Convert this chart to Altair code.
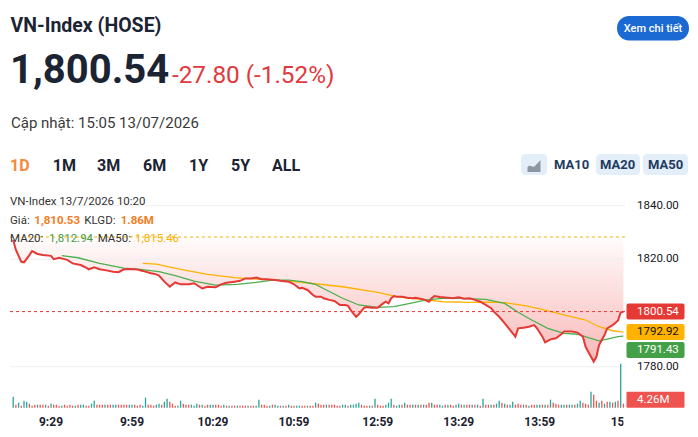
import altair as alt
import pandas as pd

FONT = "Roboto"

# ---------------- data ----------------
PREV_CLOSE = 1828.34
LAST_PRICE = 1800.54
MA20_LAST = 1791.43
MA50_LAST = 1792.92
VOL_LAST_LABEL = "4.26M"

# minute index (09:15 = 0, afternoon continues after 11:29) and price
price_idx = [0, 1, 3, 4, 6, 7, 9, 11, 14, 15, 17, 19, 20, 22, 25, 27, 28, 30, 32, 35,
             37, 39, 41, 43, 46, 48, 51, 53, 54, 56, 58, 60, 62, 65, 67, 69, 70, 72, 75, 77,
             79, 82, 84, 86, 88, 90, 92, 94, 97, 99, 102, 104, 106, 107, 109, 111, 112, 114, 115, 117,
             119, 121, 123, 124, 125, 127, 128, 130, 131, 133, 135, 137, 138, 139, 140, 141, 142, 144, 146, 148,
             149, 152, 154, 155, 156, 158, 161, 163, 165, 167, 169, 171, 173, 175, 177, 178, 180, 182, 184, 186,
             187, 189, 191, 193, 194, 196, 197, 199, 201, 203, 204, 207, 209, 211, 212, 214, 215, 216, 217, 219,
             220, 222, 223, 224, 225, 226]
price_val = [1827.2, 1823.5, 1819.1, 1818.9, 1821.6, 1823.1, 1822.0, 1821.6, 1821.3, 1820.1,
             1820.6, 1820.1, 1819.8, 1818.5, 1817.9, 1816.9, 1816.3, 1817.0, 1816.3, 1815.8,
             1815.4, 1815.2, 1816.3, 1816.4, 1816.2, 1815.7, 1814.8, 1814.4, 1814.0, 1811.7,
             1809.8, 1811.4, 1810.7, 1810.7, 1811.1, 1809.8, 1809.2, 1809.8, 1809.6, 1810.7,
             1811.3, 1811.7, 1812.0, 1812.9, 1812.9, 1813.2, 1812.6, 1812.6, 1812.3, 1812.0,
             1811.7, 1810.7, 1809.2, 1809.4, 1808.6, 1806.7, 1806.1, 1806.1, 1805.5, 1804.9,
             1804.5, 1803.0, 1803.0, 1802.7, 1801.1, 1798.6, 1799.5, 1802.0, 1802.2, 1802.0,
             1802.0, 1803.6, 1804.2, 1803.6, 1805.5, 1806.3, 1806.1, 1806.1, 1805.7, 1805.5,
             1805.7, 1805.1, 1804.2, 1805.5, 1806.3, 1806.0, 1805.7, 1805.5, 1805.9, 1805.3,
             1805.5, 1804.9, 1804.2, 1803.0, 1801.8, 1800.5, 1798.6, 1796.2, 1793.7, 1791.2,
             1794.3, 1794.5, 1794.9, 1795.5, 1794.3, 1791.2, 1789.1, 1790.2, 1790.6, 1792.1,
             1793.1, 1793.1, 1792.7, 1791.2, 1787.4, 1783.7, 1781.9, 1783.7, 1788.1, 1791.8,
             1794.3, 1795.5, 1796.3, 1797.2, 1800.2, 1800.54]

ma20_idx = [18, 24, 32, 41, 47, 54, 60, 67, 75, 83, 90, 96, 102, 107, 110, 112, 116, 122, 128, 135,
            141, 147, 153, 159, 165, 175, 182, 187, 192, 198, 204, 209, 213, 217, 220, 224, 226]
ma20_val = [1821.4, 1820.6, 1818.5, 1816.7, 1816.3, 1815.4, 1813.9, 1811.9, 1810.4, 1810.7,
            1811.4, 1812.3, 1812.3, 1811.7, 1811.1, 1810.7, 1808.6, 1805.5, 1803.0, 1802.1,
            1802.4, 1803.6, 1804.9, 1805.5, 1805.5, 1805.1, 1803.6, 1800.3, 1797.4, 1794.3,
            1792.4, 1792.1, 1790.8, 1789.6, 1790.3, 1791.2, 1791.43]

ma50_idx = [48, 53, 62, 72, 82, 90, 97, 104, 110, 122, 135, 141, 147, 153, 159, 169, 175, 182, 190, 197,
            204, 212, 217, 222, 226]
ma50_val = [1818.5, 1818.2, 1816.3, 1814.4, 1813.2, 1812.6, 1812.3, 1811.7, 1811.1, 1809.8,
            1807.7, 1806.3, 1805.5, 1804.9, 1804.2, 1804.0, 1804.1, 1803.9, 1802.7, 1801.1,
            1799.3, 1797.4, 1794.9, 1793.4, 1792.92]

# per-minute volume (millions) and candle direction (u = up, d = down)
VOLUMES = [11, 3, 5, 2, 7, 6, 4, 2, 3, 3, 3, 3, 3, 2, 4, 3, 3, 2, 2, 3,
           2, 3, 2, 2, 3, 3, 3, 2, 2, 4, 7, 3, 3, 3, 3, 3, 3, 3, 3, 3,
           3, 3, 3, 3, 3, 3, 2, 3, 2, 10, 3, 3, 2, 3, 4, 3, 6, 9, 6, 4,
           2, 2, 7, 4, 3, 3, 3, 2, 4, 3, 3, 2, 3, 3, 3, 3, 3, 2, 3, 2,
           2, 2, 2, 2, 2, 2, 2, 2, 2, 2, 2, 8, 3, 3, 2, 2, 3, 3, 2, 2,
           2, 2, 3, 2, 2, 2, 2, 2, 2, 2, 2, 2, 5, 4, 3, 3, 3, 3, 3, 3,
           2, 2, 3, 3, 2, 3, 3, 4, 5, 3, 2, 2, 2, 2, 9, 3, 2, 2, 3, 5,
           9, 3, 2, 3, 3, 5, 3, 3, 3, 3, 3, 3, 3, 3, 5, 5, 3, 3, 3, 2,
           3, 3, 3, 2, 3, 4, 3, 3, 3, 3, 3, 3, 3, 2, 9, 3, 3, 3, 3, 4,
           7, 5, 4, 3, 3, 6, 3, 4, 3, 3, 3, 2, 3, 3, 3, 3, 3, 3, 3, 8,
           5, 4, 3, 3, 3, 3, 3, 3, 3, 4, 7, 5, 4, 3, 16, 13, 7, 5, 7, 4,
           6, 6, 5, 6, 7, 44, 4]
DIRS = ["u", "d", "u", "d", "u", "u", "d", "d", "d", "u", "d", "d", "u", "d", "u", "d", "d", "d", "u", "d",
        "d", "d", "d", "u", "d", "u", "u", "d", "d", "u", "u", "d", "d", "d", "u", "d", "d", "u", "u", "d",
        "d", "d", "d", "u", "u", "d", "d", "d", "u", "u", "d", "d", "d", "u", "u", "d", "u", "u", "d", "d",
        "d", "u", "u", "d", "d", "d", "u", "u", "u", "d", "u", "d", "d", "u", "u", "d", "d", "d", "u", "d",
        "u", "d", "d", "u", "d", "d", "d", "u", "d", "d", "u", "u", "d", "d", "d", "u", "d", "u", "u", "d",
        "u", "d", "u", "d", "d", "u", "u", "d", "d", "u", "d", "d", "u", "d", "d", "d", "u", "d", "d", "d",
        "d", "d", "u", "u", "d", "u", "u", "u", "u", "d", "d", "d", "u", "d", "u", "d", "d", "d", "u", "u",
        "u", "d", "u", "u", "d", "u", "d", "d", "u", "d", "u", "d", "u", "d", "d", "u", "d", "d", "u", "u",
        "d", "u", "d", "d", "u", "u", "d", "u", "d", "d", "u", "d", "u", "d", "u", "d", "d", "u", "d", "u",
        "u", "d", "u", "d", "u", "u", "d", "d", "d", "u", "d", "u", "d", "d", "u", "u", "d", "u", "d", "u",
        "d", "d", "d", "u", "u", "d", "u", "u", "d", "u", "u", "d", "d", "d", "u", "d", "d", "u", "d", "u",
        "d", "u", "d", "u", "d", "u", "d"]

GRID_TICKS = [1840, 1820, 1780]
XTICK_IDX = [14, 44, 74, 104, 135, 165, 195, 227]
XTICK_LABELS = ["9:29", "9:59", "10:29", "10:59", "12:59", "13:29", "13:59", "15:00"]

# ---------------- scales ----------------
XS = alt.Scale(domain=[0, 227], range=[13.2, 626.1])
YS = alt.Scale(domain=[1780, 1840], range=[366.7, 205.7])
VS = alt.Scale(domain=[0, 44], range=[407.7, 363.7])

ONE = pd.DataFrame({"k": [0]})

price_df = pd.DataFrame({"i": price_idx, "p": price_val})
price_df["base"] = PREV_CLOSE
ma20_df = pd.DataFrame({"i": ma20_idx, "p": ma20_val})
ma50_df = pd.DataFrame({"i": ma50_idx, "p": ma50_val})
vol_df = pd.DataFrame({"i": list(range(len(VOLUMES))), "v": VOLUMES, "d": DIRS})
vol_df["z"] = 0
grid_df = pd.DataFrame({"v": GRID_TICKS})
xt_df = pd.DataFrame({"i": XTICK_IDX, "lab": XTICK_LABELS})

X = alt.X("i:Q", scale=XS, axis=None)
Y = alt.Y("p:Q", scale=YS, axis=None)

area = alt.Chart(price_df).mark_area(
    orient="vertical",
    color=alt.Gradient(
        gradient="linear",
        stops=[alt.GradientStop(color="rgba(239,68,68,0.02)", offset=0),
               alt.GradientStop(color="rgba(239,68,68,0.38)", offset=1)],
        x1=0, x2=0, y1=0, y2=1),
).encode(x=X, y=Y, y2="base:Q")

grid = alt.Chart(grid_df).mark_rule(color="#efefef", strokeWidth=1).encode(
    y=alt.Y("v:Q", scale=YS, axis=None), x=alt.value(10), x2=alt.value(625))

prev_line = alt.Chart(pd.DataFrame({"v": [PREV_CLOSE]})).mark_rule(
    color="#f2b600", strokeDash=[3, 3], strokeWidth=1).encode(
    y=alt.Y("v:Q", scale=YS, axis=None), x=alt.value(10), x2=alt.value(625))

ma50 = alt.Chart(ma50_df).mark_line(color="#ffb300", strokeWidth=1.3).encode(x=X, y=Y)
ma20 = alt.Chart(ma20_df).mark_line(color="#4caf50", strokeWidth=1.3).encode(x=X, y=Y)
line = alt.Chart(price_df).mark_line(color="#e53935", strokeWidth=2).encode(x=X, y=Y)

last_line = alt.Chart(pd.DataFrame({"v": [LAST_PRICE]})).mark_rule(
    color="#e53935", strokeDash=[3, 3], strokeWidth=1).encode(
    y=alt.Y("v:Q", scale=YS, axis=None), x=alt.value(10), x2=alt.value(625))

vol = alt.Chart(vol_df).mark_rule(strokeWidth=1.3).encode(
    x=X, y=alt.Y("v:Q", scale=VS, axis=None), y2="z:Q",
    color=alt.Color("d:N", scale=alt.Scale(domain=["u", "d"], range=["#26a69a", "#ef5350"]), legend=None))

xlab = alt.Chart(xt_df).mark_text(font=FONT, fontSize=12, fontWeight="bold", color="#1c2230",
                                  baseline="middle").encode(
    x=X, y=alt.value(421.5), text="lab:N")

mask = alt.Chart(ONE).mark_rect(color="white").encode(
    x=alt.value(623.5), x2=alt.value(698), y=alt.value(410), y2=alt.value(437))

ylab = alt.Chart(grid_df).mark_text(font=FONT, fontSize=11.5, color="#131722", align="left",
                                    baseline="middle").encode(
    y=alt.Y("v:Q", scale=YS, axis=None), x=alt.value(637), text=alt.Text("v:Q", format=".2f"))


def tag(value, fill, tcolor, shift):
    base = alt.Chart(pd.DataFrame({"v": [value]}))
    box = base.mark_rect(color=fill, cornerRadius=2, yOffset=shift - 8, y2Offset=shift + 8).encode(
        y=alt.Y("v:Q", scale=YS, axis=None), y2="v:Q", x=alt.value(626.5), x2=alt.value(684.5))
    txt = base.mark_text(font=FONT, fontSize=11.5, color=tcolor, align="left", baseline="middle",
                         dy=shift).encode(
        y=alt.Y("v:Q", scale=YS, axis=None), x=alt.value(637), text=alt.Text("v:Q", format=".2f"))
    return [box, txt]


tags = tag(LAST_PRICE, "#e53935", "white", 0) + tag(MA50_LAST, "#ffb300", "#111111", 0) + \
    tag(MA20_LAST, "#43a047", "white", 14)

vbox = alt.Chart(ONE).mark_rect(color="#ef5350", cornerRadius=1).encode(
    x=alt.value(626.5), x2=alt.value(684.5), y=alt.value(391.7), y2=alt.value(407.7))
vtxt = alt.Chart(ONE).mark_text(font=FONT, fontSize=11.5, color="white", align="left",
                                baseline="middle", text=VOL_LAST_LABEL).encode(
    x=alt.value(637), y=alt.value(399.7))


def T(s, x, y, size, color, weight="normal", align="left", baseline="middle"):
    return alt.Chart(ONE).mark_text(text=s, font=FONT, fontSize=size, color=color, fontWeight=weight,
                                    align=align, baseline=baseline).encode(
        x=alt.value(x), y=alt.value(y))


def R(x1, x2, y1, y2, fill, radius):
    return alt.Chart(ONE).mark_rect(color=fill, cornerRadius=radius).encode(
        x=alt.value(x1), x2=alt.value(x2), y=alt.value(y1), y2=alt.value(y2))


DARK = "#1c2434"
header = [
    T("VN-Index (HOSE)", 10.5, 32, 19.5, DARK, "bold", baseline="alphabetic"),
    T("1,800.54", 10, 83.3, 40, DARK, "bold", baseline="alphabetic"),
    T("-27.80 (-1.52%)", 172, 83, 24.3, "#e0393e", baseline="alphabetic"),
    T("Cập nhật: 15:05 13/07/2026", 11, 127.5, 15, "#3a3a3a", baseline="alphabetic"),
    R(617, 689, 16, 40.5, "#1b6ad3", 12),
    T("Xem chi tiết", 653, 28.5, 11, "white", 500, align="center"),
]
tabs = [
    T("1D", 10, 170.7, 16, "#f7893b", "bold", baseline="alphabetic"),
    T("1M", 52.7, 170.7, 16, DARK, "bold", baseline="alphabetic"),
    T("3M", 97, 170.7, 16, DARK, "bold", baseline="alphabetic"),
    T("6M", 143, 170.7, 16, DARK, "bold", baseline="alphabetic"),
    T("1Y", 189, 170.7, 16, DARK, "bold", baseline="alphabetic"),
    T("5Y", 231, 170.7, 16, DARK, "bold", baseline="alphabetic"),
    T("ALL", 272, 170.7, 16, DARK, "bold", baseline="alphabetic"),
    R(521, 547, 154, 175, "#e3eef9", 4),
    R(596, 640, 154, 175, "#e3eef9", 4),
    R(643, 688, 154, 175, "#e3eef9", 4),
    alt.Chart(ONE).mark_point(
        shape="M-1,1 L-1,0.3 C-0.6,-0.3 -0.3,0.4 0.1,0.1 C0.5,-0.2 0.7,-0.6 1,-0.8 L1,1 Z",
        filled=True, size=170, color="#8f96a3", opacity=1).encode(x=alt.value(534), y=alt.value(165.5)),
    T("MA10", 554, 164.7, 13, "#1e3a5f", "bold"),
    T("MA20", 600, 164.7, 13, "#1e3a5f", "bold"),
    T("MA50", 648, 164.7, 13, "#1e3a5f", "bold"),
]
GREY = "#333333"
ORANGE = "#f47b20"
info = [
    T("VN-Index 13/7/2026 10:20", 10, 202, 11.5, GREY),
    T("Giá:", 10, 221, 11.5, GREY),
    T("1,810.53", 34.3, 221, 11.5, ORANGE, "bold"),
    T("KLGD:", 84.3, 221, 11.5, GREY),
    T("1.86M", 120.7, 221, 11.5, ORANGE, "bold"),
    T("MA20:", 10, 239, 11.5, GREY),
    T("1,812.94", 49, 239, 11.5, "#43a047"),
    T("MA50:", 97.7, 239, 11.5, GREY),
    T("1,815.46", 135, 239, 11.5, "#f9b300"),
]

layers = [area, grid, prev_line, ma50, ma20, line, last_line, vol, xlab, mask, ylab] + tags + \
    [vbox, vtxt] + header + tabs + info

chart = alt.layer(*layers).resolve_scale(y="independent").properties(
    width=698, height=437, autosize=alt.AutoSizeParams(type="none"), padding=0,
    background="white",
).configure_view(stroke=None)

chart.save("out.html", embed_options={"renderer": "svg", "actions": False})
